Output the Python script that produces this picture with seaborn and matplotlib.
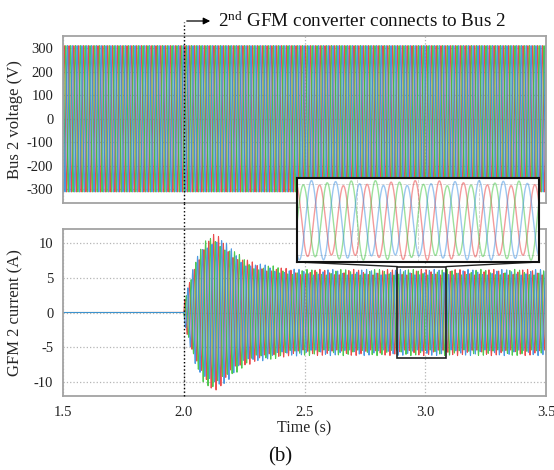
import numpy as np
import pandas as pd
import matplotlib
matplotlib.use("Agg")
import matplotlib.pyplot as plt
import seaborn as sns
from matplotlib.patches import Rectangle, ConnectionPatch

# ---------------- data ----------------
phase_names = ["a", "b", "c"]
phase_colors = ["#e8393a", "#3dc43d", "#3b8fe0"]   # red, green, blue (blue drawn last)
phase_shift_deg = [0, -120, 120]
grid_freq_hz = 50
bus_voltage_peak = 311
t_connect = 2.0
# envelope of the GFM 2 current (A)
env_t = [1.5, 2.0, 2.005, 2.025, 2.05, 2.08, 2.12, 2.15, 2.2, 2.25, 2.3, 2.35, 2.43, 2.5, 3.5]
env_a = [0.0, 0.0, 1.9, 4.4, 7.2, 9.3, 10.6, 10.2, 8.6, 7.3, 6.6, 6.4, 5.9, 5.8, 5.8]
beat_freq_hz = 43
beat_ratio = 0.07
t_start, t_end = 1.5, 3.5
x_ticks = [1.5, 2.0, 2.5, 3.0, 3.5]
v_ticks = [-300, -200, -100, 0, 100, 200, 300]
i_ticks = [-10, -5, 0, 5, 10]
zoom_xlim = (2.885, 3.087)
zoom_ylim = (-6.5, 6.6)
annot_text = r"2$^{\rm nd}$ GFM converter connects to Bus 2"

# ---------------- build waveforms ----------------
t = np.arange(t_start, t_end, 1e-4)
env = np.interp(t, env_t, env_a)
rows_v, rows_i = [], []
for name, sh in zip(phase_names, phase_shift_deg):
    ph = np.deg2rad(sh)
    v = bus_voltage_peak * np.sin(2 * np.pi * grid_freq_hz * t + ph)
    i = env * (np.sin(2 * np.pi * grid_freq_hz * t + ph + 0.4)
               + beat_ratio * np.sin(2 * np.pi * beat_freq_hz * t - ph))
    rows_v.append(pd.DataFrame({"t": t, "val": v, "phase": name}))
    rows_i.append(pd.DataFrame({"t": t, "val": i, "phase": name}))
df_v = pd.concat(rows_v, ignore_index=True)
df_i = pd.concat(rows_i, ignore_index=True)
pal = dict(zip(phase_names, phase_colors))

# ---------------- style ----------------
sns.set_theme(style="white")
plt.rcParams["font.family"] = ["Liberation Serif", "DejaVu Serif"]
plt.rcParams["mathtext.fontset"] = "custom"
plt.rcParams["mathtext.rm"] = "Liberation Serif"
plt.rcParams["mathtext.it"] = "Liberation Serif:italic"
plt.rcParams["axes.unicode_minus"] = False

W, H = 554, 470
fig = plt.figure(figsize=(W / 100, H / 100), dpi=100)

def fx(px):
    return px / W

def fy(py):
    return 1 - py / H

L, R = 63, 546
ax_top = fig.add_axes([fx(L), fy(203), fx(R - L), (203 - 36) / H])
ax_bot = fig.add_axes([fx(L), fy(396), fx(R - L), (396 - 229) / H])

spine_c = "#a3a3a3"
grid_kw = dict(color="#b5b5b5", linestyle=":", linewidth=0.9)

for ax in (ax_top, ax_bot):
    for s in ax.spines.values():
        s.set_color(spine_c)
        s.set_linewidth(1.3)
    ax.set_axisbelow(True)
    ax.grid(True, **grid_kw)
    ax.set_xlim(t_start, t_end)
    ax.set_xticks(x_ticks)
    ax.tick_params(axis="both", labelsize=10.5, colors="#222222",
                   length=3.5, width=0.9, direction="out")
    ax.tick_params(axis="both", color=spine_c)

sns.lineplot(data=df_v, x="t", y="val", hue="phase", palette=pal, hue_order=phase_names,
             estimator=None, sort=False, legend=False, linewidth=0.75, alpha=0.9, ax=ax_top)
sns.lineplot(data=df_i, x="t", y="val", hue="phase", palette=pal, hue_order=phase_names,
             estimator=None, sort=False, legend=False, linewidth=0.75, alpha=0.9, ax=ax_bot)

ax_top.set_ylim(-358, 352)
ax_top.set_yticks(v_ticks)
ax_top.set_yticklabels([str(v) for v in v_ticks])
ax_top.set_xlim(t_start, t_end)
ax_top.tick_params(axis="x", bottom=False, labelbottom=False)
ax_top.set_xlabel("")
ax_top.set_ylabel("Bus 2 voltage (V)", fontsize=12)
ax_top.yaxis.set_label_coords(-0.082, 0.5)

ax_bot.set_ylim(-12, 12)
ax_bot.set_yticks(i_ticks)
ax_bot.set_xlim(t_start, t_end)
ax_bot.set_xticklabels([f"{x:.1f}" for x in x_ticks])
ax_bot.set_yticklabels([str(v) for v in i_ticks])
ax_bot.set_xlabel("Time (s)", fontsize=11.5)
ax_bot.xaxis.set_label_coords(0.5, -0.145)
ax_bot.set_ylabel("GFM 2 current (A)", fontsize=12)
ax_bot.yaxis.set_label_coords(-0.082, 0.5)

# vertical dotted connection line
ax_top.axvline(t_connect, ymin=0, ymax=1 + 14 / 167, color="black", linestyle=":",
               linewidth=1.0, clip_on=False, zorder=6)
ax_bot.axvline(t_connect, ymin=0, ymax=1 + 27 / 167, color="black", linestyle=":",
               linewidth=1.0, clip_on=False, zorder=6)

# annotation arrow + text
fig.patches.append(matplotlib.patches.FancyArrowPatch(
    (fx(184), fy(21)), (fx(213), fy(21)), transform=fig.transFigure,
    arrowstyle="-|>", mutation_scale=10, color="black", linewidth=0.9))
fig.text(fx(218), fy(21), annot_text, fontsize=13.8, ha="left", va="center", color="#111111")

# zoom rectangle on current plot
rect = Rectangle((zoom_xlim[0], zoom_ylim[0]), zoom_xlim[1] - zoom_xlim[0],
                 zoom_ylim[1] - zoom_ylim[0], fill=False, edgecolor="#222222",
                 linewidth=1.2, zorder=7)
ax_bot.add_patch(rect)

# inset
ax_in = fig.add_axes([fx(297), fy(262), fx(539 - 297), (262 - 178) / H], zorder=10)
sub = df_i[(df_i["t"] >= zoom_xlim[0] - 0.002) & (df_i["t"] <= zoom_xlim[1] + 0.002)]
sns.lineplot(data=sub, x="t", y="val", hue="phase", palette=pal, hue_order=phase_names,
             estimator=None, sort=False, legend=False, linewidth=1.0, alpha=0.5, ax=ax_in)
ax_in.set_xlim(*zoom_xlim)
ax_in.set_ylim(*zoom_ylim)
ax_in.set_xticks([2.935, 2.986, 3.037])
ax_in.set_yticks([-5.4, -1.7, 2.0, 5.7])
ax_in.grid(True, color="#d0d0d0", linestyle="--", linewidth=0.6)
ax_in.tick_params(left=False, bottom=False, labelleft=False, labelbottom=False)
ax_in.set_xlabel("")
ax_in.set_ylabel("")
ax_in.set_facecolor("white")
for s in ax_in.spines.values():
    s.set_color("#111111")
    s.set_linewidth(1.5)

for xa_in, xa_main in ((0, zoom_xlim[0]), (1, zoom_xlim[1])):
    con = ConnectionPatch(xyA=(xa_in, 0), coordsA=ax_in.transAxes,
                          xyB=(xa_main, zoom_ylim[1]), coordsB=ax_bot.transData,
                          color="#222222", linewidth=1.0)
    fig.add_artist(con)

fig.text(fx(280), fy(457), "(b)", fontsize=15, ha="center", va="center", color="#111111")

fig.savefig("out.png", dpi=100)
